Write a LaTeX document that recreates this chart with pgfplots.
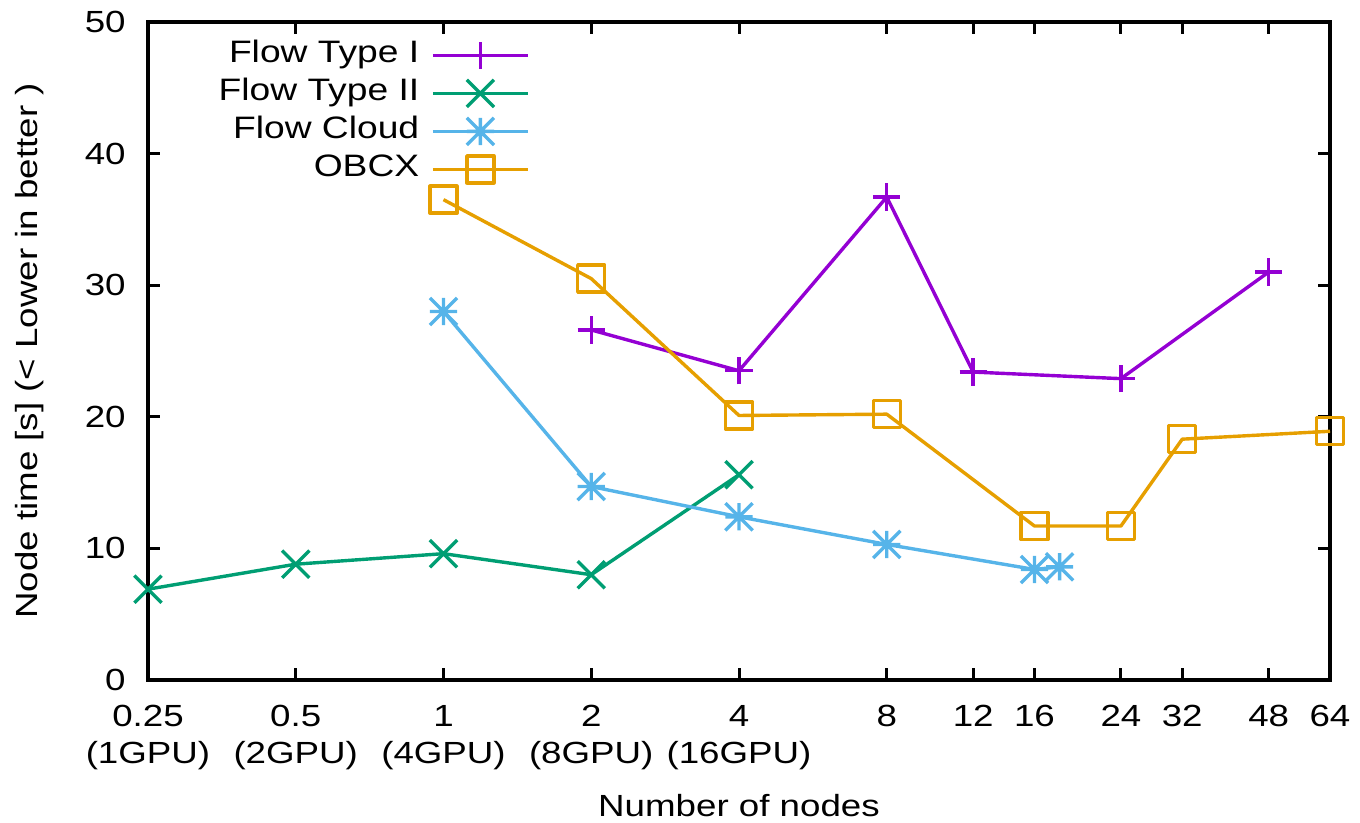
\documentclass[border=0pt]{standalone}
\usepackage{pgfplots}
\pgfplotsset{compat=1.18}
\usepackage{fontspec}
\setmainfont{Liberation Sans}[FakeStretch=1.2]

\definecolor{c1}{HTML}{9400D3}
\definecolor{c2}{HTML}{009E73}
\definecolor{c3}{HTML}{56B4E9}
\definecolor{c4}{HTML}{E69F00}

\pgfdeclareplotmark{gplus}{%
  \pgfpathmoveto{\pgfqpoint{-\pgfplotmarksize}{0pt}}\pgfpathlineto{\pgfqpoint{\pgfplotmarksize}{0pt}}%
  \pgfpathmoveto{\pgfqpoint{0pt}{-\pgfplotmarksize}}\pgfpathlineto{\pgfqpoint{0pt}{\pgfplotmarksize}}%
  \pgfusepathqstroke}
\pgfdeclareplotmark{gcross}{%
  \pgfpathmoveto{\pgfqpoint{-\pgfplotmarksize}{-\pgfplotmarksize}}\pgfpathlineto{\pgfqpoint{\pgfplotmarksize}{\pgfplotmarksize}}%
  \pgfpathmoveto{\pgfqpoint{-\pgfplotmarksize}{\pgfplotmarksize}}\pgfpathlineto{\pgfqpoint{\pgfplotmarksize}{-\pgfplotmarksize}}%
  \pgfusepathqstroke}
\pgfdeclareplotmark{gstar}{%
  \pgfpathmoveto{\pgfqpoint{-\pgfplotmarksize}{0pt}}\pgfpathlineto{\pgfqpoint{\pgfplotmarksize}{0pt}}%
  \pgfpathmoveto{\pgfqpoint{0pt}{-\pgfplotmarksize}}\pgfpathlineto{\pgfqpoint{0pt}{\pgfplotmarksize}}%
  \pgfpathmoveto{\pgfqpoint{-\pgfplotmarksize}{-\pgfplotmarksize}}\pgfpathlineto{\pgfqpoint{\pgfplotmarksize}{\pgfplotmarksize}}%
  \pgfpathmoveto{\pgfqpoint{-\pgfplotmarksize}{\pgfplotmarksize}}\pgfpathlineto{\pgfqpoint{\pgfplotmarksize}{-\pgfplotmarksize}}%
  \pgfusepathqstroke}

\begin{document}
\begin{tikzpicture}
\useasboundingbox (-74bp,-71.5bp) rectangle (606bp,340bp);
\begin{axis}[
  scale only axis, width=591bp, height=329bp,
  xmode=log, log basis x=2,
  xmin=0.25, xmax=64, ymin=0, ymax=50,
  xtick={0.25,0.5,1,2,4,8,12,16,24,32,48,64},
  xticklabels={{0.25\\(1GPU)},{0.5\\(2GPU)},{1\\(4GPU)},{2\\(8GPU)},{4\\(16GPU)},8,12,16,24,32,48,64},
  xminorticks=false, yminorticks=false,
  ytick={0,10,20,30,40,50},
  /pgf/number format/assume math mode=true,
  tick align=inside, major tick length=6bp,
  tick style={black, line width=1.5bp},
  axis line style={black, line width=1.6bp},
  xticklabel style={align=center, font=\fontsize{15.3bp}{18.5bp}\selectfont, anchor=north, inner sep=0pt, yshift=-12.5bp},
  yticklabel style={font=\fontsize{15.3bp}{18.5bp}\selectfont, anchor=east, inner sep=0pt, xshift=-11bp},
  xlabel={Number of nodes},
  ylabel={Node time [s] (< Lower in better )},
  xlabel style={font=\fontsize{15.3bp}{18.5bp}\selectfont, at={(axis description cs:0.5,-0.2067)}, anchor=base},
  ylabel style={font=\fontsize{15.3bp}{18.5bp}\selectfont, at={(axis description cs:-0.0931,0.5)}, anchor=base},
  clip=false,
  legend cell align=right,
  legend plot pos=right,
  legend style={at={(axis description cs:0.3232,0.9787)}, anchor=north east, draw=none, fill=none,
    inner sep=0pt, row sep=0pt, column sep=6bp,
    nodes={inner sep=0pt, text height=13bp, text depth=6bp, font=\fontsize{15.5bp}{18.5bp}\selectfont}},
  legend image code/.code={\draw[mark repeat=2,mark phase=2] plot coordinates {(0bp,0bp) (23.75bp,0bp) (47.5bp,0bp)};},
  every axis plot/.append style={line width=1.7bp, line join=round, mark size=6.8bp, mark options={solid, line width=1.7bp}},
]
\addplot[c1, mark=gplus] coordinates {(2,26.6) (4,23.5) (8,36.7) (12,23.4) (24,22.9) (48,31.0)};
\addlegendentry{Flow Type I}
\addplot[c2, mark=gcross] coordinates {(0.25,6.9) (0.5,8.8) (1,9.6) (2,8.0) (4,15.6)};
\addlegendentry{Flow Type II}
\addplot[c3, mark=gstar] coordinates {(1,28.0) (2,14.7) (4,12.4) (8,10.3) (16,8.4) (18,8.6)};
\addlegendentry{Flow Cloud}
\addplot[c4, mark=square, mark size=6.75bp] coordinates {(1,36.5) (2,30.5) (4,20.1) (8,20.2) (16,11.7) (24,11.7) (32,18.3) (64,18.9)};
\addlegendentry{OBCX}
\end{axis}
\end{tikzpicture}
\end{document}
